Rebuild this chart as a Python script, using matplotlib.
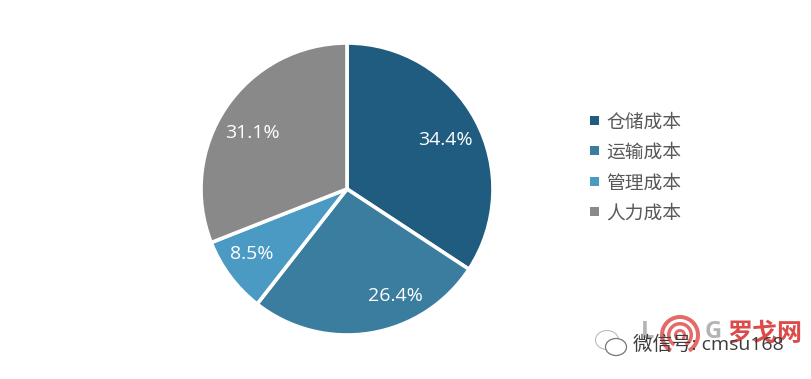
import matplotlib
matplotlib.use("Agg")
import matplotlib.pyplot as plt
from matplotlib.patches import Rectangle, Wedge, Ellipse

plt.rcParams['font.family'] = ['Open Sans', 'Noto Sans CJK SC', 'DejaVu Sans']

categories = ['仓储成本', '运输成本', '管理成本', '人力成本']
values = [34.4, 26.4, 8.5, 31.1]
value_labels = ['34.4%', '26.4%', '8.5%', '31.1%']
colors = ['#1F5C80', '#3A7D9F', '#4A9AC4', '#898989']

W, H = 812, 379
fig = plt.figure(figsize=(W/100, H/100), dpi=100, facecolor='white')
ax = fig.add_axes([0, 0, 1, 1])
cx, cy, r = 347, 189, 146


def Y(y):
    return H - y


ax.pie(values, colors=colors, startangle=90, counterclock=False,
       center=(cx, Y(cy)), radius=r, frame=True,
       wedgeprops=dict(edgecolor='white', linewidth=2.6))
ax.set_xlim(0, W)
ax.set_ylim(0, H)
ax.set_aspect('equal')
ax.axis('off')

label_pos = [(445, 140), (395, 296), (252, 254), (252, 133)]
for (x, y), t in zip(label_pos, value_labels):
    ax.text(x, Y(y), t, color='white', fontsize=14, ha='center', va='center')

leg_y = [121, 151, 182, 212]
for y, c, t in zip(leg_y, colors, categories):
    ax.add_patch(Rectangle((590, Y(y)-4.5), 9, 9, color=c, lw=0))
    ax.text(606, Y(y)-1.5, t, color='#595959', fontsize=13.5, ha='left', va='center')

# Watermark: logo
ax.text(641, Y(332), 'L', color='#B4B4B4', fontsize=17, fontweight='bold', ha='left', va='center', zorder=3)
ax.text(705, Y(332), 'G', color='#B4B4B4', fontsize=17, fontweight='bold', ha='left', va='center', zorder=3)
for rad, w in [(20, 4), (13, 3.5), (6, 3)]:
    ax.add_patch(Wedge((680, Y(335)), rad, -60, 240, width=w, color='#E46A6A', lw=0, zorder=3))
ax.text(727, Y(334), '罗戈网', color='#DD4A4A', fontsize=18, fontweight='bold', ha='left', va='center', zorder=3)

# WeChat icon
ax.add_patch(Ellipse((607, Y(340)), 23, 19, fc='white', ec='#BBBBBB', lw=0.8, zorder=4))
ax.add_patch(Ellipse((616, Y(347)), 21, 17, fc='white', ec='#777777', lw=0.9, zorder=5))

ax.text(633, Y(345), '微信号: cmsu168', color='#3C3C3C', fontsize=14, ha='left', va='center', zorder=6)

fig.savefig('out.png', dpi=100)
